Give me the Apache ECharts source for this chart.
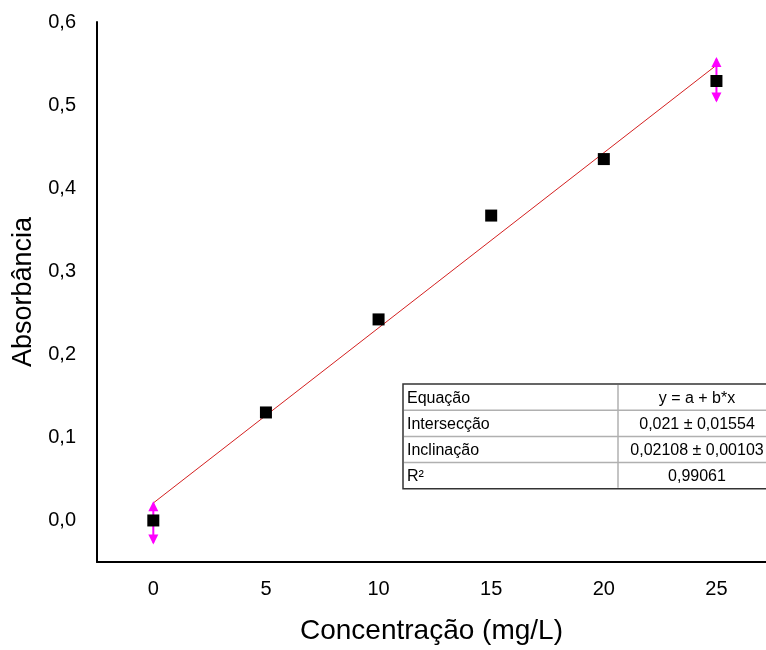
<!DOCTYPE html>
<html><head><meta charset="utf-8">
<script src="https://cdn.jsdelivr.net/npm/echarts@6/dist/echarts.min.js"></script>
<style>html,body{margin:0;padding:0;background:#fff}#c{width:766px;height:650px}</style>
</head><body><div id="c"></div>
<script>
// Data
var concentrations = [0, 5, 10, 15, 20, 25];
var absorbance = [0.0, 0.130, 0.242, 0.367, 0.435, 0.529];
var fitIntercept = 0.021;
var fitSlope = 0.02108;
var fitRange = [0, 25];
var errorBars = [[0, -0.029, 0.023], [25, 0.503, 0.558]]; // [x, low, high]
var tableRows = [
  ['Equação', 'y = a + b*x'],
  ['Intersecção', '0,021 ± 0,01554'],
  ['Inclinação', '0,02108 ± 0,00103'],
  ['R²', '0,99061']
];

var FONT = 'Arial, "Liberation Sans", sans-serif';
var chart = echarts.init(document.getElementById('c'));

var points = concentrations.map(function (x, i) { return [x, absorbance[i]]; });
var fitLine = fitRange.map(function (x) { return [x, fitIntercept + fitSlope * x]; });

// Table graphic
var tblLeft = 403, tblTop = 384, rowH = 26.2, colSplit = 618, tblRight = 776;
var tableEls = [];
tableEls.push({type: 'rect', shape: {x: tblLeft, y: tblTop, width: tblRight - tblLeft, height: rowH * tableRows.length},
  style: {fill: '#fff', stroke: '#333', lineWidth: 1.5}, z: 100});
for (var r = 1; r < tableRows.length; r++) {
  tableEls.push({type: 'line', shape: {x1: tblLeft + 1, y1: tblTop + r * rowH, x2: tblRight, y2: tblTop + r * rowH},
    style: {stroke: '#b0b0b0', lineWidth: 1.5}, z: 101});
}
tableEls.push({type: 'line', shape: {x1: colSplit, y1: tblTop + 1, x2: colSplit, y2: tblTop + rowH * tableRows.length - 1},
  style: {stroke: '#b0b0b0', lineWidth: 1.5}, z: 101});
tableRows.forEach(function (row, i) {
  var cy = tblTop + (i + 0.5) * rowH + 1;
  tableEls.push({type: 'text', x: tblLeft + 4, y: cy, z: 102,
    style: {text: row[0], font: '16px ' + FONT, fill: '#000', verticalAlign: 'middle', align: 'left'}});
  tableEls.push({type: 'text', x: (colSplit + tblRight) / 2, y: cy, z: 102,
    style: {text: row[1], font: '16px ' + FONT, fill: '#000', verticalAlign: 'middle', align: 'center'}});
});

function fmtNum(v) { return v.toFixed(1).replace('.', ','); }

chart.setOption({
  animation: false,
  backgroundColor: '#fff',
  grid: {left: 97, top: 22, right: 0, bottom: 84, containLabel: false},
  xAxis: {
    type: 'value', min: -2.5, max: 27.2, interval: 2.5,
    name: 'Concentração (mg/L)', nameLocation: 'middle', nameGap: 55,
    nameTextStyle: {fontFamily: FONT, fontSize: 28, color: '#000'},
    axisLine: {show: true, onZero: false, lineStyle: {color: '#000', width: 2}},
    axisTick: {show: false}, splitLine: {show: false},
    axisLabel: {fontFamily: FONT, fontSize: 20, color: '#000', margin: 17, showMaxLabel: false,
      formatter: function (v) { var r = Math.round(v * 10); return (r % 50 === 0 && v >= 0 && v <= 25) ? String(Math.round(v)) : ''; }}
  },
  yAxis: {
    type: 'value', min: -0.05, max: 0.6, interval: 0.05,
    name: 'Absorbância', nameLocation: 'middle', nameGap: 57,
    nameTextStyle: {fontFamily: FONT, fontSize: 27, color: '#000'},
    axisLine: {show: true, onZero: false, lineStyle: {color: '#000', width: 2}},
    axisTick: {show: false}, splitLine: {show: false},
    axisLabel: {fontFamily: FONT, fontSize: 20, color: '#000', margin: 21,
      formatter: function (v) { var r = Math.round(v * 100); return (r % 10 === 0 && r >= 0) ? fmtNum(r / 100) : ''; }}
  },
  series: [
    {type: 'line', data: fitLine, symbol: 'none', lineStyle: {color: '#d42020', width: 1}, z: 2, silent: true},
    {type: 'custom', data: errorBars, z: 3,
      renderItem: function (params, api) {
        var x = api.value(0);
        var lo = api.coord([x, api.value(1)]);
        var hi = api.coord([x, api.value(2)]);
        var c = lo[0], w = 5, h = 10;
        var col = '#ff00ff';
        return {type: 'group', children: [
          {type: 'line', shape: {x1: c, y1: hi[1] + 2, x2: c, y2: lo[1] - 2}, style: {stroke: col, lineWidth: 2}},
          {type: 'polygon', shape: {points: [[c, hi[1]], [c - w, hi[1] + h], [c + w, hi[1] + h]]}, style: {fill: col}},
          {type: 'polygon', shape: {points: [[c, lo[1]], [c - w, lo[1] - h], [c + w, lo[1] - h]]}, style: {fill: col}}
        ]};
      }},
    {type: 'scatter', data: points, symbol: 'rect', symbolSize: 12, itemStyle: {color: '#000', opacity: 1}, z: 4}
  ],
  graphic: tableEls
});
</script>
</body></html>
